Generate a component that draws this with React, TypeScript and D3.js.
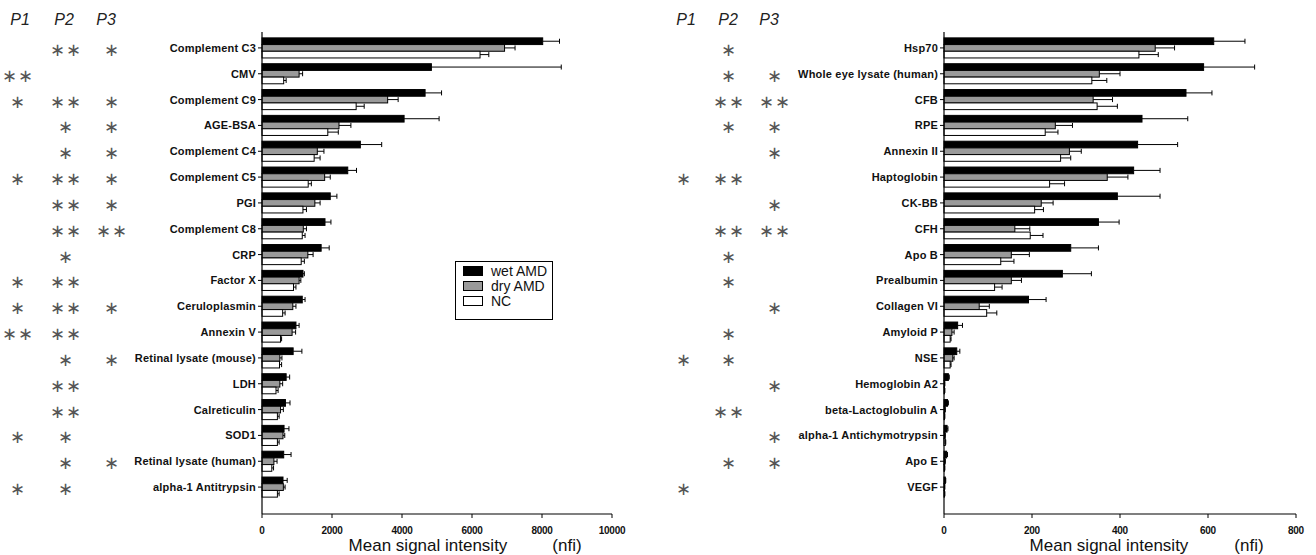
import * as d3 from "d3";

// ---- left panel data ----
const leftCats = [
  "Complement C3", "CMV", "Complement C9", "AGE-BSA", "Complement C4", "Complement C5",
  "PGI", "Complement C8", "CRP", "Factor X", "Ceruloplasmin", "Annexin V",
  "Retinal lysate (mouse)", "LDH", "Calreticulin", "SOD1", "Retinal lysate (human)", "alpha-1 Antitrypsin",
];
const leftWet = [8020, 4840, 4660, 4060, 2810, 2450, 1950, 1800, 1690, 1170, 1150, 970, 890, 690, 670, 630, 620, 600];
const leftWetErr = [8500, 8550, 5130, 5060, 3420, 2700, 2140, 1970, 1920, 1210, 1230, 1060, 1140, 790, 800, 770, 830, 720];
const leftDry = [6930, 1060, 3590, 2200, 1580, 1790, 1510, 1180, 1310, 1060, 880, 860, 510, 510, 530, 600, 340, 610];
const leftDryErr = [7230, 1160, 3890, 2540, 1770, 1950, 1660, 1270, 1460, 1110, 970, 960, 570, 590, 610, 650, 430, 660];
const leftNC = [6230, 620, 2690, 1880, 1490, 1320, 1170, 1150, 1120, 900, 590, 530, 500, 400, 440, 440, 280, 440];
const leftNCErr = [6480, 690, 2920, 2180, 1660, 1410, 1270, 1230, 1210, 970, 660, 560, 560, 460, 490, 490, 330, 490];
const leftP1 = ["", "**", "*", "", "", "*", "", "", "", "*", "*", "**", "", "", "", "*", "", "*"];
const leftP2 = ["**", "", "**", "*", "*", "**", "**", "**", "*", "**", "**", "**", "*", "**", "**", "*", "*", "*"];
const leftP3 = ["*", "", "*", "*", "*", "*", "*", "**", "", "", "*", "", "*", "", "", "", "*", ""];
const leftTicks = [0, 2000, 4000, 6000, 8000, 10000];

// ---- right panel data ----
const rightCats = [
  "Hsp70", "Whole eye lysate (human)", "CFB", "RPE", "Annexin II", "Haptoglobin",
  "CK-BB", "CFH", "Apo B", "Prealbumin", "Collagen VI", "Amyloid P",
  "NSE", "Hemoglobin A2", "beta-Lactoglobulin A", "alpha-1 Antichymotrypsin", "Apo E", "VEGF",
];
const rightWet = [613, 590, 550, 450, 440, 431, 394, 351, 288, 269, 192, 31, 29, 10, 8, 7, 6, 3];
const rightWetErr = [684, 706, 609, 554, 531, 491, 491, 398, 351, 335, 232, 42, 36, 12, 10, 9, 8, 4];
const rightDry = [480, 353, 339, 253, 285, 371, 221, 161, 153, 153, 80, 18, 20, 1, 2, 2, 2, 1];
const rightDryErr = [524, 400, 383, 292, 312, 418, 248, 195, 194, 176, 103, 23, 23, 2, 3, 3, 3, 2];
const rightNC = [443, 336, 348, 230, 265, 240, 206, 196, 129, 115, 97, 14, 14, 1, 1, 3, 1, 1];
const rightNCErr = [487, 370, 394, 259, 288, 274, 226, 225, 159, 132, 120, 16, 16, 2, 2, 4, 2, 2];
const rightP1 = ["", "", "", "", "", "*", "", "", "", "", "", "", "*", "", "", "", "", "*"];
const rightP2 = ["*", "*", "**", "*", "", "**", "", "**", "*", "*", "", "*", "*", "", "**", "", "*", ""];
const rightP3 = ["", "*", "**", "*", "*", "", "*", "**", "", "", "*", "", "", "*", "", "*", "*", ""];
const rightTicks = [0, 200, 400, 600, 800];

const seriesNames = ["wet AMD", "dry AMD", "NC"];
const seriesFill = ["#000000", "#9a9a9a", "#ffffff"];

const W = 1316;
const H = 555;
const FONT = "'Liberation Sans', Arial, sans-serif";

type PanelProps = {
  cats: string[];
  vals: number[][];
  errs: number[][];
  stars: string[][];
  ticks: number[];
  xMax: number;
  x0: number;
  x1: number;
  headerX: number[];
  starX: number[];
  titleX: number;
  nfiX: number;
};

function Panel(p: PanelProps) {
  const x = d3.scaleLinear().domain([0, p.xMax]).range([p.x0, p.x1]);
  const y = d3.scaleBand<string>().domain(p.cats).range([35, 500]).padding(0);
  const inner = d3
    .scaleBand<number>()
    .domain([0, 1, 2])
    .range([0, y.bandwidth()])
    .paddingInner(0)
    .paddingOuter(0.43);
  const axisY = 514;
  const bh = inner.bandwidth();

  return (
    <g>
      {["P1", "P2", "P3"].map((t, i) => (
        <text key={t} x={p.headerX[i]} y={25} textAnchor="middle" fontFamily={FONT} fontStyle="italic" fontSize={16} fill="#222">
          {t}
        </text>
      ))}
      {p.cats.map((c, ci) => {
        const cy = (y(c) ?? 0) + y.bandwidth() / 2;
        return (
          <g key={c}>
            {p.stars.map((col, si) =>
              col[ci] ? (
                <text key={si} x={p.starX[si]} y={cy + 8} textAnchor="middle" fontFamily="'DejaVu Sans', sans-serif" fontSize={18} fill="#555" letterSpacing={1}>
                  {col[ci].replace(/\*/g, "∗")}
                </text>
              ) : null
            )}
            <text x={p.x0 - 6} y={cy + 4} textAnchor="end" fontFamily={FONT} fontWeight="bold" fontSize={11} fill="#111" letterSpacing={0.2}>
              {c}
            </text>
            <line x1={p.x0 - 4} x2={p.x0} y1={cy} y2={cy} stroke="#000" strokeWidth={1} />
            {[0, 1, 2].map((s) => {
              const by = (y(c) ?? 0) + (inner(s) ?? 0);
              const v = p.vals[s][ci];
              const e = p.errs[s][ci];
              const my = by + bh / 2;
              return (
                <g key={s}>
                  <rect x={x(0)} y={by} width={Math.max(x(v) - x(0), 0.5)} height={bh} fill={seriesFill[s]} stroke="#000" strokeWidth={1} />
                  {e > v && (
                    <g stroke="#000" strokeWidth={1}>
                      <line x1={x(v)} x2={x(e)} y1={my} y2={my} />
                      <line x1={x(e)} x2={x(e)} y1={my - 2.5} y2={my + 2.5} />
                    </g>
                  )}
                </g>
              );
            })}
          </g>
        );
      })}
      <line x1={p.x0} x2={p.x0} y1={32} y2={axisY} stroke="#000" strokeWidth={1.2} />
      <line x1={p.x0} x2={p.x1} y1={axisY} y2={axisY} stroke="#000" strokeWidth={1.2} />
      {p.ticks.map((t) => (
        <g key={t}>
          <line x1={x(t)} x2={x(t)} y1={axisY} y2={axisY + 4} stroke="#000" strokeWidth={1} />
          <text x={x(t)} y={axisY + 20} textAnchor="middle" fontFamily={FONT} fontWeight="bold" fontSize={10} fill="#111" letterSpacing={-0.3}>
            {t}
          </text>
        </g>
      ))}
      <text x={p.titleX} y={551} textAnchor="middle" fontFamily={FONT} fontSize={17} fill="#111">
        Mean signal intensity
      </text>
      <text x={p.nfiX} y={551} textAnchor="middle" fontFamily={FONT} fontSize={17} fill="#111">
        (nfi)
      </text>
    </g>
  );
}

export default function App() {
  return (
    <svg width={W} height={H} style={{ position: "absolute", left: 0, top: 0, background: "#fff" }}>
      <rect width={W} height={H} fill="#fff" />
      <Panel
        cats={leftCats}
        vals={[leftWet, leftDry, leftNC]}
        errs={[leftWetErr, leftDryErr, leftNCErr]}
        stars={[leftP1, leftP2, leftP3]}
        ticks={leftTicks}
        xMax={10000}
        x0={262}
        x1={612}
        headerX={[20, 64, 106]}
        starX={[18, 66, 112]}
        titleX={428}
        nfiX={567}
      />
      <Panel
        cats={rightCats}
        vals={[rightWet, rightDry, rightNC]}
        errs={[rightWetErr, rightDryErr, rightNCErr]}
        stars={[rightP1, rightP2, rightP3]}
        ticks={rightTicks}
        xMax={800}
        x0={944}
        x1={1296}
        headerX={[686, 728, 769]}
        starX={[684, 729, 775]}
        titleX={1109}
        nfiX={1249}
      />
      <g>
        <rect x={455.5} y={261.5} width={97} height={58} fill="#fff" stroke="#000" strokeWidth={1} />
        {seriesNames.map((n, i) => (
          <g key={n}>
            <rect x={463.5} y={266.5 + i * 15} width={19} height={9} fill={seriesFill[i]} stroke="#000" strokeWidth={1} />
            <text x={491} y={275.5 + i * 15} fontFamily={FONT} fontSize={14} fill="#111">
              {n}
            </text>
          </g>
        ))}
      </g>
    </svg>
  );
}
